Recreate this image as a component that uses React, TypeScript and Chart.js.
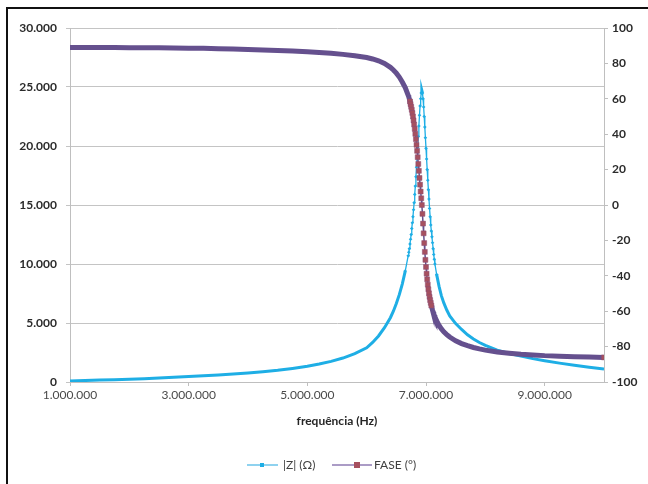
import React, { useEffect, useRef } from "react";
import { Chart, registerables } from "chart.js";

Chart.register(...registerables);

// frequency (Hz)
const freqHz = [
  1.0e6, 1.25e6, 1.5e6, 1.75e6, 2.0e6, 2.25e6, 2.5e6, 2.75e6, 3.0e6, 3.25e6,
  3.5e6, 3.75e6, 4.0e6, 4.25e6, 4.5e6, 4.75e6, 5.0e6, 5.2e6, 5.4e6, 5.6e6,
  5.8e6, 6.0e6, 6.1e6, 6.2e6, 6.3e6, 6.4e6, 6.45e6, 6.5e6, 6.55e6, 6.6e6,
  6.65e6, 6.7e6, 6.71e6, 6.72e6, 6.73e6, 6.74e6, 6.75e6, 6.76e6, 6.77e6, 6.78e6,
  6.79e6, 6.8e6, 6.81e6, 6.82e6, 6.83e6, 6.84e6, 6.85e6, 6.86e6, 6.87e6, 6.88e6,
  6.89e6, 6.9e6, 6.91e6, 6.92e6, 6.93e6, 6.94e6, 6.95e6, 6.96e6, 6.97e6, 6.98e6,
  6.99e6, 7.0e6, 7.01e6, 7.02e6, 7.03e6, 7.04e6, 7.05e6, 7.06e6, 7.07e6, 7.08e6,
  7.09e6, 7.1e6, 7.11e6, 7.12e6, 7.13e6, 7.14e6, 7.15e6, 7.18e6, 7.22e6, 7.26e6,
  7.3e6, 7.35e6, 7.4e6, 7.5e6, 7.6e6, 7.7e6, 7.8e6, 7.9e6, 8.0e6, 8.2e6,
  8.4e6, 8.6e6, 8.8e6, 9.0e6, 9.25e6, 9.5e6, 9.75e6, 10.0e6,
];

// |Z| (ohm)
const impedance = [
  90, 125, 160, 200, 240, 285, 330, 400, 470, 530,
  600, 680, 770, 870, 990, 1150, 1330, 1520, 1750, 2030,
  2400, 2900, 3350, 3900, 4600, 5450, 6000, 6650, 7400, 8300,
  9400, 10700, 11000, 11300, 11700, 12100, 12500, 13000, 13500, 14000,
  14600, 15200, 15900, 16600, 17400, 18200, 19000, 19900, 20800, 21700,
  22600, 23400, 24000, 24500, 24700, 24500, 24000, 23300, 22500, 21600,
  20700, 19800, 18900, 18000, 17100, 16300, 15500, 14700, 14000, 13300,
  12800, 12300, 11800, 11300, 10800, 10400, 10000, 9100, 8100, 7300,
  6700, 6100, 5600, 4950, 4450, 4000, 3650, 3350, 3100, 2700,
  2420, 2200, 1980, 1800, 1600, 1420, 1250, 1100,
];

// phase (degrees)
const phase = [
  89.0, 89.0, 89.0, 89.0, 88.9, 88.9, 88.8, 88.7, 88.6, 88.5,
  88.3, 88.1, 87.9, 87.6, 87.3, 87.0, 86.6, 86.2, 85.7, 85.1,
  84.3, 83.3, 82.5, 81.5, 80.0, 77.8, 76.3, 74.5, 72.3, 69.5,
  66.3, 62.0, 61.0, 59.8, 58.5, 57.0, 55.5, 53.8, 52.0, 50.0,
  47.8, 45.5, 43.0, 40.2, 37.2, 34.0, 30.6, 27.0, 23.2, 19.3,
  15.3, 11.5, 7.6, 3.8, 0.0, -5.0, -10.5, -16.0, -21.5, -26.5,
  -31.0, -35.0, -38.8, -42.0, -45.0, -47.6, -49.9, -51.9, -53.7, -55.3,
  -56.8, -58.1, -59.3, -60.4, -61.4, -62.3, -63.2, -65.5, -68.0, -70.0,
  -71.6, -73.2, -74.6, -76.7, -78.3, -79.5, -80.5, -81.3, -82.0, -83.0,
  -83.7, -84.3, -84.7, -85.1, -85.4, -85.7, -85.9, -86.1,
];

const xTickValues = [1e6, 3e6, 5e6, 7e6, 9e6];
const seriesNames = ["|Z| (\u03A9)", "FASE (\u00B0)"];
const xAxisTitle = "frequ\u00EAncia (Hz)";

const CYAN = "#1eaee5";
const PURPLE = "#65508e";
const MARKER_RED = "#a6505f";
const FONT = "Lato, 'Open Sans', sans-serif";

const fmt = (v: number) =>
  Math.round(v)
    .toString()
    .replace(/\B(?=(\d{3})+(?!\d))/g, ".");

function isSteep(chart: any, dsIndex: number, i: number, k: number) {
  const ds = chart.data.datasets[dsIndex];
  const data = ds.data as { x: number; y: number }[];
  const xs = chart.scales.x;
  const ys = chart.scales[ds.yAxisID];
  if (!xs || !ys) return false;
  const seg = (a: number, b: number) => {
    if (a < 0 || b >= data.length) return false;
    const dx = Math.abs(xs.getPixelForValue(data[b].x) - xs.getPixelForValue(data[a].x));
    const dy = Math.abs(ys.getPixelForValue(data[b].y) - ys.getPixelForValue(data[a].y));
    return dy > k * dx;
  };
  return seg(i - 1, i) || seg(i, i + 1);
}

const legendPlugin = {
  id: "excelLegend",
  afterDraw(chart: any) {
    const ctx = chart.ctx as CanvasRenderingContext2D;
    const y = 456;
    ctx.save();
    ctx.strokeStyle = "#8fd2ef";
    ctx.lineWidth = 2;
    ctx.beginPath();
    ctx.moveTo(239, y);
    ctx.lineTo(270, y);
    ctx.stroke();
    ctx.fillStyle = CYAN;
    ctx.fillRect(252, y - 2, 4, 4);
    ctx.strokeStyle = "#ab9cc6";
    ctx.beginPath();
    ctx.moveTo(324, y);
    ctx.lineTo(364, y);
    ctx.stroke();
    ctx.fillStyle = MARKER_RED;
    ctx.fillRect(346, y - 3, 6, 6);
    ctx.fillStyle = "#404040";
    ctx.font = `12px ${FONT}`;
    ctx.textBaseline = "middle";
    ctx.textAlign = "left";
    ctx.fillText(seriesNames[0], 275, y);
    ctx.fillText(seriesNames[1], 366, y);
    ctx.restore();
  },
};

export default function App() {
  const ref = useRef<HTMLCanvasElement | null>(null);

  useEffect(() => {
    if (!ref.current) return;
    const zData = freqHz.map((f, i) => ({ x: f, y: impedance[i] }));
    const pData = freqHz.map((f, i) => ({ x: f, y: phase[i] }));

    const chart = new Chart(ref.current, {
      type: "line",
      data: {
        datasets: [
          {
            label: seriesNames[0],
            data: zData,
            yAxisID: "y",
            order: 1,
            borderColor: CYAN,
            backgroundColor: CYAN,
            borderWidth: 3,
            pointStyle: "rectRot",
            pointBackgroundColor: CYAN,
            pointBorderColor: CYAN,
            pointBorderWidth: 0,
            pointRadius: (c: any) => (isSteep(c.chart, c.datasetIndex, c.dataIndex, 5) ? 1.8 : 0),
            segment: {
              borderWidth: (c: any) =>
                Math.abs(c.p1.y - c.p0.y) > 5 * Math.abs(c.p1.x - c.p0.x) ? 1.3 : 3,
            },
            tension: 0,
            fill: false,
          } as any,
          {
            label: seriesNames[1],
            data: pData,
            yAxisID: "y1",
            order: 0,
            borderColor: PURPLE,
            backgroundColor: PURPLE,
            borderWidth: 5,
            pointStyle: "rect",
            pointBackgroundColor: MARKER_RED,
            pointBorderColor: "#8a4f74",
            pointBorderWidth: 0.5,
            pointRadius: (c: any) => {
              const last = c.dataIndex === freqHz.length - 1;
              return last || isSteep(c.chart, c.datasetIndex, c.dataIndex, 4) ? 3.5 : 0;
            },
            segment: {
              borderWidth: (c: any) =>
                Math.abs(c.p1.y - c.p0.y) > 4 * Math.abs(c.p1.x - c.p0.x) ? 1.5 : 5,
            },
            tension: 0,
            fill: false,
          } as any,
        ],
      },
      options: {
        responsive: false,
        animation: false,
        devicePixelRatio: 1,
        layout: { padding: { top: 19, bottom: 52, left: 0, right: 0 } },
        plugins: {
          legend: { display: false },
          tooltip: { enabled: false },
        },
        scales: {
          x: {
            type: "linear",
            position: "bottom",
            min: 1e6,
            max: 1e7,
            afterBuildTicks: (s: any) => {
              s.ticks = xTickValues.map((v) => ({ value: v }));
            },
            afterFit: (s: any) => {
              s.height = 50;
            },
            ticks: {
              callback: (v: any) => fmt(Number(v)),
              font: { family: FONT, size: 12 },
              color: "#4a4a4a",
              padding: 2,
              maxRotation: 0,
              autoSkip: false,
            },
            grid: {
              drawOnChartArea: false,
              drawTicks: true,
              tickLength: 4,
              color: "#bfbfbf",
            },
            border: { color: "#bfbfbf", width: 1 },
            title: {
              display: true,
              text: xAxisTitle,
              font: { family: FONT, size: 12, weight: "bold" },
              color: "#262626",
              padding: { top: 4, bottom: 4 },
            },
          },
          y: {
            type: "linear",
            position: "left",
            min: 0,
            max: 30000,
            afterFit: (s: any) => {
              s.width = 62;
            },
            ticks: {
              stepSize: 5000,
              callback: (v: any) => fmt(Number(v)),
              font: { family: FONT, size: 12, weight: "bold" },
              color: "#2b2b2b",
              padding: 9,
            },
            grid: {
              color: "#c4c4c4",
              tickLength: 4,
              drawTicks: true,
            },
            border: { color: "#bfbfbf", width: 1 },
          },
          y1: {
            type: "linear",
            position: "right",
            min: -100,
            max: 100,
            afterFit: (s: any) => {
              s.width = 44;
            },
            ticks: {
              stepSize: 20,
              font: { family: FONT, size: 12, weight: "bold" },
              color: "#2b2b2b",
              padding: 4,
            },
            grid: {
              drawOnChartArea: false,
              tickLength: 4,
              color: "#bfbfbf",
            },
            border: { color: "#bfbfbf", width: 1 },
          },
        },
      } as any,
      plugins: [legendPlugin],
    });
    return () => chart.destroy();
  }, []);

  return (
    <div
      style={{
        position: "absolute",
        left: 6,
        top: 7,
        borderLeft: "2px solid #111",
        borderTop: "2px solid #111",
        width: 640,
        height: 475,
        background: "#fff",
      }}
    >
      <canvas ref={ref} width={640} height={475} style={{ display: "block" }} />
    </div>
  );
}
